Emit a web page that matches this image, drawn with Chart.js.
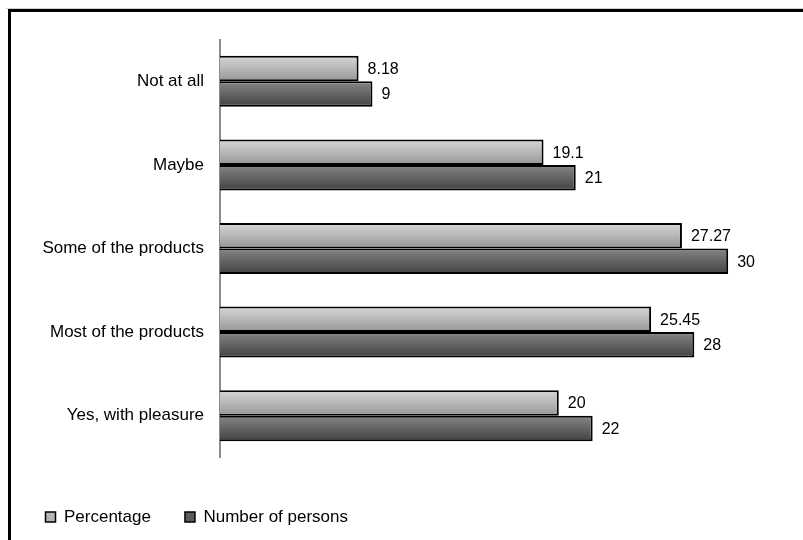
<!DOCTYPE html>
<html>
<head>
<meta charset="utf-8">
<script src="https://cdn.jsdelivr.net/npm/chart.js@4/dist/chart.umd.min.js"></script>
<style>
  html, body { margin: 0; padding: 0; background: #fff; }
  #wrap { width: 803px; height: 540px; }
</style>
</head>
<body>
<div id="wrap"><canvas id="c" width="803" height="540"></canvas></div>
<script>
// Answers, listed top to bottom
const categories = ['Not at all', 'Maybe', 'Some of the products', 'Most of the products', 'Yes, with pleasure'];
const percentage = [8.18, 19.1, 27.27, 25.45, 20];
const persons = [9, 21, 30, 28, 22];
const seriesNames = ['Percentage', 'Number of persons'];

const FONT = "'Liberation Sans', Arial, sans-serif";
const CAT_PCT = 0.61;

// Vertical shaded fill for each bar, built from the bar's band on the category scale
const shades = [
  { solid: '#b4b4b4', stops: [[0, '#e8e8e8'], [0.12, '#cfcfcf'], [0.55, '#b4b4b4'], [0.9, '#9c9c9c'], [1, '#7c7c7c']] },
  { solid: '#5c5c5c', stops: [[0, '#a0a0a0'], [0.12, '#7e7e7e'], [0.55, '#606060'], [0.9, '#484848'], [1, '#303030']] }
];
function barFill(ctx) {
  const s = shades[ctx.datasetIndex] || shades[0];
  const chart = ctx.chart;
  const y = chart.scales && chart.scales.y;
  if (ctx.type !== 'data' || !chart.chartArea || !y) return s.solid;
  const center = y.getPixelForValue(ctx.dataIndex);
  const band = (y.height / categories.length) * CAT_PCT;
  const top = ctx.datasetIndex === 0 ? center - band / 2 : center;
  const g = chart.ctx.createLinearGradient(0, top, 0, top + band / 2);
  s.stops.forEach(([o, c]) => g.addColorStop(o, c));
  return g;
}

// Outer frame around the figure
const framePlugin = {
  id: 'frame',
  beforeDraw(chart) {
    const c = chart.ctx;
    c.save();
    c.fillStyle = '#fff';
    c.fillRect(0, 0, chart.width, chart.height);
    c.strokeStyle = '#cfcfcf';
    c.lineWidth = 1;
    c.beginPath(); c.moveTo(6, 8.5); c.lineTo(chart.width, 8.5); c.stroke();
    c.strokeStyle = '#000';
    c.lineWidth = 3;
    c.beginPath();
    c.moveTo(9.5, chart.height + 5);
    c.lineTo(9.5, 10.5);
    c.lineTo(chart.width + 5, 10.5);
    c.stroke();
    c.restore();
  }
};

// Value written just past the end of each bar
const valueLabels = {
  id: 'valueLabels',
  afterDatasetsDraw(chart) {
    const c = chart.ctx;
    c.save();
    c.font = '16px ' + FONT;
    c.fillStyle = '#000';
    c.textAlign = 'left';
    c.textBaseline = 'middle';
    chart.data.datasets.forEach((ds, di) => {
      const meta = chart.getDatasetMeta(di);
      meta.data.forEach((el, i) => {
        c.fillText(String(ds.data[i]), el.x + 9, el.y + 1);
      });
    });
    c.restore();
  }
};

Chart.defaults.font.family = FONT;

const barStyle = {
  categoryPercentage: CAT_PCT,
  barPercentage: 1,
  backgroundColor: barFill,
  borderColor: '#000',
  borderWidth: 2,
  borderSkipped: 'start'
};

new Chart(document.getElementById('c'), {
  type: 'bar',
  data: {
    labels: categories,
    datasets: [
      Object.assign({ label: seriesNames[0], data: percentage }, barStyle),
      Object.assign({ label: seriesNames[1], data: persons }, barStyle)
    ]
  },
  options: {
    indexAxis: 'y',
    responsive: false,
    animation: false,
    devicePixelRatio: 1,
    layout: { padding: { left: 11.5, right: 24, top: 39.5, bottom: 4.5 } },
    scales: {
      x: {
        min: 0,
        max: 33,
        ticks: { display: false },
        grid: { display: false },
        border: { display: false },
        afterFit(scale) { scale.height = 17; }
      },
      y: {
        grid: { display: false, drawTicks: false },
        border: { display: true, color: '#8c8c8c', width: 2 },
        ticks: { color: '#000', font: { size: 17 }, padding: 16 },
        afterFit(scale) { scale.width = 208.5; }
      }
    },
    plugins: {
      colors: { enabled: false },
      tooltip: { enabled: false },
      legend: {
        position: 'bottom',
        align: 'start',
        labels: {
          boxWidth: 10,
          boxHeight: 10,
          padding: 34,
          color: '#000',
          font: { size: 17 },
          generateLabels(chart) {
            return Chart.defaults.plugins.legend.labels.generateLabels(chart).map((item, i) => {
              item.fillStyle = i === 0 ? '#b4b4b4' : '#5c5c5c';
              item.strokeStyle = '#000';
              item.lineWidth = 1.5;
              return item;
            });
          }
        }
      }
    }
  },
  plugins: [framePlugin, valueLabels]
});
</script>
</body>
</html>
